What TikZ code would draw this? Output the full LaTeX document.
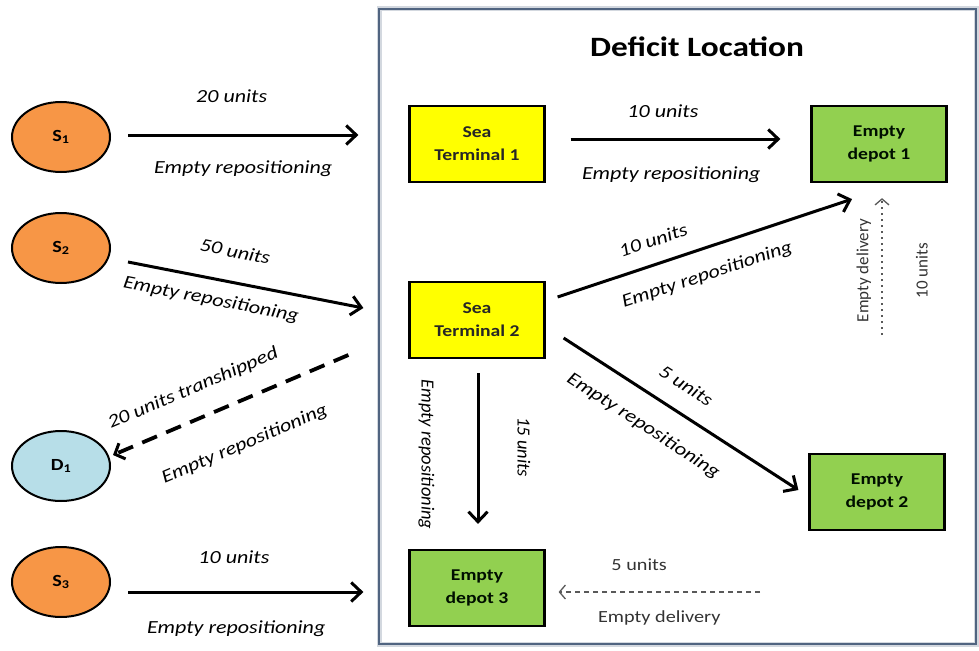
\documentclass[tikz,border=0pt]{standalone}
\usepackage{fontspec}
\setmainfont[FakeStretch=1.19]{Carlito}
\newfontfamily\vertfont{Carlito}
\usetikzlibrary{arrows.meta, positioning, calc, shapes.geometric}

\definecolor{supplyorange}{RGB}{247,150,70}
\definecolor{demandblue}{RGB}{183,222,232}
\definecolor{depotgreen}{RGB}{146,208,80}
\definecolor{terminalyellow}{RGB}{255,255,0}
\definecolor{frameblue}{RGB}{80,100,128}

\begin{document}
\begin{tikzpicture}[
    x=1pt, y=-1pt,
    % Define node styles
    port/.style={
        ellipse,
        draw=black,
        line width=2pt,
        minimum width=98pt,
        minimum height=70pt,
        inner sep=0pt,
        font=\bfseries\fontsize{17}{19}\selectfont
    },
    terminal/.style={
        rectangle,
        draw=black,
        line width=2.2pt,
        fill=terminalyellow,
        minimum width=135pt,
        minimum height=76pt,
        align=center,
        text=black!85,
        font=\bfseries\fontsize{16.5}{23}\selectfont
    },
    depot/.style={terminal, fill=depotgreen, text=black!85!green!40!black},
    % Define connector styles
    repos/.style={
        line width=3pt,
        -{Straight Barb[length=10pt, width=19pt, line width=3pt]}
    },
    tranship/.style={
        line width=3.8pt,
        dash pattern=on 16pt off 10pt,
        -{Straight Barb[length=8pt, width=17pt, line width=3pt]}
    },
    delivery/.style={
        line width=1.2pt,
        black!65,
        dash pattern=on 5pt off 4pt,
        -{Straight Barb[length=6pt, width=14pt, line width=1.3pt]}
    },
    lbl/.style={
        sloped,
        inner sep=0pt,
        font=\itshape\fontsize{18.5}{20}\selectfont
    },
    vlbl/.style={lbl, font=\vertfont\itshape\fontsize{18.5}{20}\selectfont},
    plain/.style={
        sloped,
        inner sep=0pt,
        text=black!80,
        font=\fontsize{17}{19}\selectfont
    },
    vplain/.style={plain, font=\vertfont\fontsize{17}{19}\selectfont}
]
    \useasboundingbox (0,0) rectangle (979,650);

    % =================================================================
    % --- Deficit location frame ---
    % =================================================================
    \draw[frameblue!25, line width=5pt] (379,9) rectangle (976,644);
    \draw[frameblue, line width=2pt] (379,9) rectangle (976,644);
    \node[font=\bfseries\fontsize{28}{30}\selectfont] (title) at (697,47) {Deficit Location};

    % =================================================================
    % --- Supply and demand locations ---
    % =================================================================
    \node[port, fill=supplyorange] (s1) at (61,137) {S\textsubscript{1}};
    \node[port, fill=supplyorange] (s2) at (61,248) {S\textsubscript{2}};
    \node[port, fill=demandblue] (d1) at (61,466) {D\textsubscript{1}};
    \node[port, fill=supplyorange] (s3) at (61,582) {S\textsubscript{3}};

    % Terminals and depots
    \node[terminal] (t1) at (477,144) {Sea\\Terminal 1};
    \node[terminal] (t2) at (477,320) {Sea\\Terminal 2};
    \node[depot] (dep1) at (879,144) {Empty\\depot 1};
    \node[depot] (dep2) at (877,492) {Empty\\depot 2};
    \node[depot] (dep3) at (477,588) {Empty\\depot 3};

    % Free ends of the delivery arrows
    \coordinate (dlv1) at (882,335);
    \coordinate (dlv3) at (760,592);

    % =================================================================
    % --- Flows into the deficit location ---
    % =================================================================
    \draw[repos] ($(s1.east)+(17,-2)$) -- ($(t1.west |- s1.east)+(-50,-2)$)
        node[lbl, pos=0.45, above=31pt] {20 units}
        node[lbl, pos=0.5, below=24pt] {Empty repositioning};

    \draw[repos] ($(s2.east)+(17,14)$) -- ($(t2.west)+(-45,-12)$)
        node[lbl, pos=0.43, above=23pt] {50 units}
        node[lbl, pos=0.37, below=12pt] {Empty repositioning};

    \draw[tranship] ($(t2.west)+(-60,35)$) -- ($(d1.east)+(2,-11)$)
        node[lbl, pos=0.61, above=20pt] {20 units transhipped}
        node[lbl, pos=0.51, below=32pt] {Empty repositioning};

    \draw[repos] ($(s3.east)+(17,10)$) -- ($(dep3.west)+(-45,4)$)
        node[lbl, pos=0.45, above=27pt] {10 units}
        node[lbl, pos=0.46, below=27pt] {Empty repositioning};

    % =================================================================
    % --- Flows inside the deficit location ---
    % =================================================================
    \draw[repos] ($(t1.east)+(25,-5)$) -- ($(dep1.west)+(-30,-5)$)
        node[lbl, pos=0.44, above=20pt] {10 units}
        node[lbl, pos=0.48, below=26pt] {Empty repositioning};

    \draw[repos] ($(t2.east)+(12,-23)$) -- ($(dep1.south)+(-27,16)$)
        node[lbl, pos=0.35, above=16pt] {10 units}
        node[lbl, pos=0.48, below=17pt] {Empty repositioning};

    \draw[repos] ($(t2.east)+(18,18)$) -- ($(dep2.west)+(-10,-2)$)
        node[lbl, pos=0.46, above=19pt] {5 units}
        node[lbl, pos=0.41, below=21pt] {Empty repositioning};

    \draw[repos] ($(t2.south)+(1,14)$) -- ($(dep3.north)+(1,-25)$)
        node[vlbl, pos=0.49, above=38pt] {15 units}
        node[vlbl, pos=0.54, below=42pt] {Empty repositioning};

    % Empty deliveries
    \draw[delivery, line width=2pt, dash pattern=on 2pt off 4pt] (dlv1) -- ($(dep1.south)+(3,15)$)
        node[vplain, pos=0.47, above=10pt] {Empty delivery}
        node[vplain, pos=0.47, below=33pt] {10 units};

    \draw[delivery] (dlv3) -- ($(dep3.east)+(13,4)$)
        node[plain, pos=0.6, above=21pt] {5 units}
        node[plain, pos=0.5, below=18pt] {Empty delivery};
\end{tikzpicture}
\end{document}
